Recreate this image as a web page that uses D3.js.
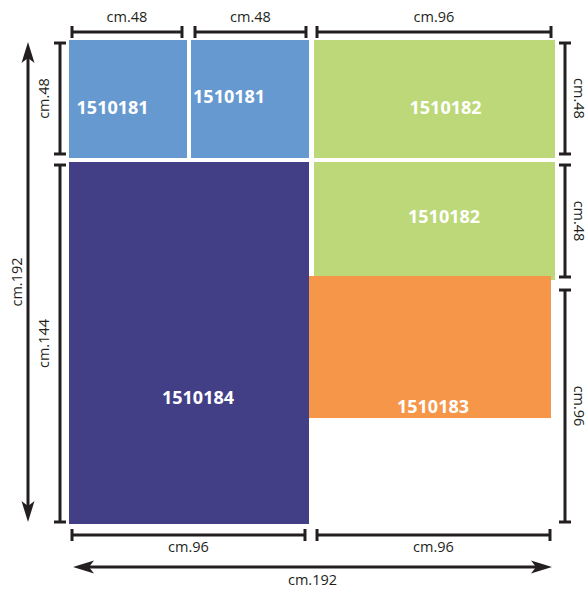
<!DOCTYPE html>
<html>
<head>
<meta charset="utf-8">
<script src="https://cdn.jsdelivr.net/npm/d3@7"></script>
<style>
  html, body { margin: 0; padding: 0; background: #fff; }
  svg { display: block; }
</style>
</head>
<body>
<svg id="plan"></svg>
<script>
// tiles, in cm
const tileCodes = ["1510181", "1510181", "1510182", "1510182", "1510184", "1510183"];
const tileX0 = [-0.4, 48.3, 97.4, 97.4, -0.4, 95.4];
const tileX1 = [46.7, 95.4, 193.6, 193.6, 95.4, 192];
const tileY0 = [0, 0, 0, 48.7, 48.7, 94.2];
const tileY1 = [47.1, 47.1, 47.1, 95.8, 193.2, 150.9];
const labelX = [17.0, 63.5, 149.9, 149.3, 51.1, 144.9];
const labelY = [26.6, 22.4, 26.9, 70.1, 142.5, 146.1];
const tileKind = ["blue", "blue", "green", "green", "navy", "orange"];

// dimension brackets (cm)
const topDims = [[0.8, 44.7], [49.9, 94.2], [98.6, 192]];
const topLabels = ["cm.48", "cm.48", "cm.96"];
const bottomDims = [[0.8, 93.8], [98.6, 191.6]];
const bottomLabels = ["cm.96", "cm.96"];
const rightDims = [[1.2, 45.5], [49.9, 94.6], [99.8, 192.4]];
const rightLabels = ["cm.48", "cm.48", "cm.96"];
const leftDims = [[1.2, 45.5], [49.9, 192.4]];
const leftLabels = ["cm.48", "cm.144"];
const totalW = [1.2, 192.4];
const totalH = [0.8, 192.4];
const totalLabel = "cm.192";

const colors = { blue: "#6699d0", green: "#bcd878", navy: "#433f87", orange: "#f69649" };
const ink = "#231f20";

const width = 588;
const height = 590;

const svg = d3.select("#plan").attr("width", width).attr("height", height);

const x = d3.scaleLinear().domain([0, 192]).range([70, 551]);
const y = d3.scaleLinear().domain([0, 192]).range([40, 521]);

const tiles = tileCodes.map((code, i) => ({
  code, x0: tileX0[i], x1: tileX1[i], y0: tileY0[i], y1: tileY1[i],
  lx: labelX[i], ly: labelY[i], kind: tileKind[i],
}));

svg.append("g")
  .selectAll("rect")
  .data(tiles)
  .join("rect")
  .attr("x", (d) => x(d.x0))
  .attr("y", (d) => y(d.y0))
  .attr("width", (d) => x(d.x1) - x(d.x0))
  .attr("height", (d) => y(d.y1) - y(d.y0))
  .attr("fill", (d) => colors[d.kind]);

svg.append("g")
  .selectAll("text")
  .data(tiles)
  .join("text")
  .attr("x", (d) => x(d.lx))
  .attr("y", (d) => y(d.ly))
  .attr("text-anchor", "middle")
  .attr("dominant-baseline", "central")
  .attr("fill", "#fff")
  .attr("font-family", "'Open Sans', sans-serif")
  .attr("font-weight", 700)
  .attr("font-size", 18)
  .text((d) => d.code);

const dims = svg.append("g").attr("stroke", ink).attr("stroke-width", 3).attr("fill", "none");
const texts = svg.append("g")
  .attr("fill", ink)
  .attr("font-family", "'Open Sans', sans-serif")
  .attr("font-size", 14.5);

const tick = 6;

// horizontal bracket
function hBracket(span, yy, label, dy) {
  const a = x(span[0]), b = x(span[1]);
  dims.append("line").attr("x1", a).attr("x2", b).attr("y1", yy).attr("y2", yy);
  dims.append("line").attr("x1", a).attr("x2", a).attr("y1", yy - tick).attr("y2", yy + tick);
  dims.append("line").attr("x1", b).attr("x2", b).attr("y1", yy - tick).attr("y2", yy + tick);
  texts.append("text")
    .attr("x", (a + b) / 2).attr("y", yy + dy)
    .attr("text-anchor", "middle")
    .text(label);
}

// vertical bracket, rot = 90 reads downwards, -90 reads upwards
function vBracket(span, xx, label, dx, rot) {
  const a = y(span[0]), b = y(span[1]);
  dims.append("line").attr("x1", xx).attr("x2", xx).attr("y1", a).attr("y2", b);
  dims.append("line").attr("x1", xx - tick).attr("x2", xx + tick).attr("y1", a).attr("y2", a);
  dims.append("line").attr("x1", xx - tick).attr("x2", xx + tick).attr("y1", b).attr("y2", b);
  const cx = xx + dx, cy = (a + b) / 2;
  texts.append("text")
    .attr("transform", `translate(${cx},${cy}) rotate(${rot})`)
    .attr("text-anchor", "middle")
    .attr("dominant-baseline", "central")
    .text(label);
}

topDims.forEach((s, i) => hBracket(s, 32, topLabels[i], -10));
bottomDims.forEach((s, i) => hBracket(s, 535, bottomLabels[i], 17));
rightDims.forEach((s, i) => vBracket(s, 565, rightLabels[i], 14.5, 90));
leftDims.forEach((s, i) => vBracket(s, 60, leftLabels[i], -17, -90));

// arrowhead pointing at (0,0) along -x
const head = "M0,0L21,-6.5L16,0L21,6.5Z";

function hArrow(span, yy, label) {
  const a = x(span[0]), b = x(span[1]);
  dims.append("line").attr("x1", a + 12).attr("x2", b - 12).attr("y1", yy).attr("y2", yy);
  svg.append("path").attr("d", head).attr("fill", ink).attr("transform", `translate(${a},${yy})`);
  svg.append("path").attr("d", head).attr("fill", ink).attr("transform", `translate(${b},${yy}) rotate(180)`);
  texts.append("text")
    .attr("x", (a + b) / 2).attr("y", yy + 18)
    .attr("text-anchor", "middle")
    .text(label);
}

function vArrow(span, xx, label) {
  const a = y(span[0]), b = y(span[1]);
  dims.append("line").attr("x1", xx).attr("x2", xx).attr("y1", a + 12).attr("y2", b - 12);
  svg.append("path").attr("d", head).attr("fill", ink).attr("transform", `translate(${xx},${a}) rotate(90)`);
  svg.append("path").attr("d", head).attr("fill", ink).attr("transform", `translate(${xx},${b}) rotate(-90)`);
  texts.append("text")
    .attr("transform", `translate(${xx - 12},${(a + b) / 2}) rotate(-90)`)
    .attr("text-anchor", "middle")
    .attr("dominant-baseline", "central")
    .text(label);
}

hArrow(totalW, 567, totalLabel);
vArrow(totalH, 28, totalLabel);
</script>
</body>
</html>
